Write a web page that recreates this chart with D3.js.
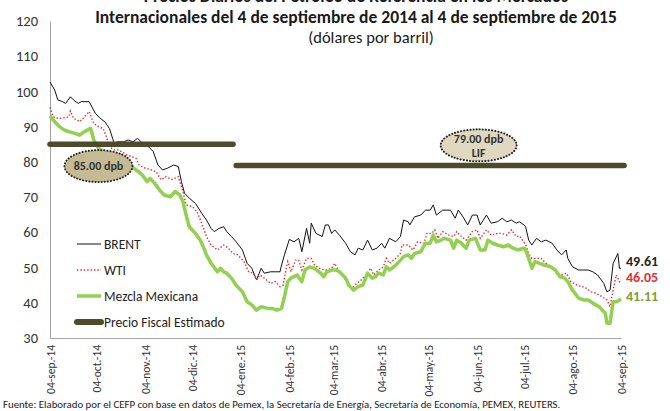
<!DOCTYPE html>
<html>
<head>
<meta charset="utf-8">
<script src="https://cdn.jsdelivr.net/npm/d3@7"></script>
<style>
  body { margin: 0; background: #fff; }
  text { font-family: Carlito, "Liberation Sans Narrow", "Arial Narrow", "Liberation Sans", sans-serif; }
</style>
</head>
<body>
<script>
// days since 04-sep-2014, price in dollars per barrel
const brent = [[0,102.7],[3,100.4],[5,97.6],[8,97.1],[10,96.6],[13,98.5],[15,97.6],[18,96.6],[20,97.1],[25,97.1],[29,93.8],[32,92.4],[35,91.4],[38,89.5],[40,86.7],[41,85.3],[43,85.7],[47,85.7],[50,86.2],[53,85.7],[56,86.7],[59,85.3],[63,84.3],[66,82.9],[69,79.1],[72,77.7],[75,78.2],[79,79.1],[82,78.7],[84,74.4],[86,71.1],[89,69.7],[93,68.2],[97,65.4],[100,63.5],[103,61.1],[105,60.2],[108,61.1],[111,61.6],[113,60.2],[116,58.8],[119,57.3],[123,55.0],[126,51.2],[129,49.8],[132,46.5],[135,49.8],[137,48.4],[141,48.8],[144,48.8],[147,48.8],[148,50.7],[150,53.8],[153,58.0],[156,57.3],[159,58.3],[161,54.5],[164,61.1],[166,56.9],[167,62.6],[170,59.7],[174,58.8],[176,62.1],[178,62.1],[180,59.7],[182,60.7],[185,59.2],[189,56.9],[192,54.5],[195,53.6],[197,55.5],[200,55.0],[203,57.8],[206,55.0],[209,55.5],[212,56.9],[214,55.5],[217,58.3],[221,57.3],[224,58.8],[226,63.5],[229,63.0],[230,62.1],[233,64.4],[237,64.9],[240,66.3],[243,66.3],[245,67.8],[247,64.9],[251,66.3],[256,66.3],[259,64.0],[261,66.3],[264,64.4],[267,62.1],[270,64.9],[273,64.9],[275,62.1],[279,64.9],[282,62.6],[286,63.0],[289,64.0],[292,63.0],[295,63.5],[298,62.6],[300,63.0],[303,62.1],[304,61.6],[306,57.8],[308,56.4],[311,58.3],[314,57.3],[317,57.8],[321,56.9],[324,55.0],[327,53.6],[330,55.0],[331,52.6],[334,50.2],[338,49.3],[341,49.3],[344,49.3],[347,48.8],[350,47.9],[354,45.5],[356,43.1],[358,43.6],[360,51.2],[363,54.0],[364,49.8],[365,49.61]];

const wti = [[0,95.5],[2,92.8],[5,92.4],[8,92.4],[12,92.8],[13,94.4],[15,92.4],[19,91.4],[22,92.8],[25,94.3],[28,90.9],[31,90.0],[34,89.5],[36,87.2],[38,84.3],[41,83.4],[44,83.4],[49,82.0],[52,81.5],[55,81.0],[57,79.1],[61,78.2],[65,77.7],[68,77.2],[71,74.9],[74,75.8],[78,75.0],[82,75.8],[85,71.6],[87,67.8],[91,67.3],[94,65.9],[97,62.6],[100,58.8],[103,56.4],[107,55.0],[111,56.4],[114,55.5],[117,54.0],[120,53.6],[124,51.7],[127,48.8],[130,48.4],[132,46.5],[134,47.9],[137,47.0],[141,45.5],[144,46.0],[147,44.6],[149,45.0],[151,49.8],[152,51.7],[154,48.8],[157,52.1],[159,52.1],[161,49.3],[164,52.6],[167,52.6],[169,50.7],[172,49.8],[175,49.3],[177,49.3],[180,49.8],[182,51.2],[185,48.8],[189,46.5],[193,44.1],[196,45.5],[199,46.5],[202,47.9],[205,49.8],[207,47.9],[210,49.3],[213,50.2],[215,52.6],[217,51.2],[221,52.6],[224,54.0],[225,56.4],[229,56.4],[232,55.0],[235,57.3],[239,56.9],[241,59.7],[244,59.7],[246,60.7],[248,58.3],[251,60.2],[255,59.2],[258,58.8],[260,60.2],[263,58.8],[266,57.8],[270,60.2],[273,60.7],[275,58.3],[279,60.7],[282,59.2],[286,59.7],[289,59.7],[292,59.2],[295,60.7],[298,58.8],[300,59.0],[304,56.6],[306,54.0],[308,52.6],[311,52.6],[314,52.6],[317,51.2],[321,50.2],[324,48.4],[327,47.9],[330,48.4],[333,46.0],[337,45.0],[340,44.6],[343,44.1],[346,43.1],[349,42.7],[353,41.7],[356,40.8],[358,38.9],[360,43.6],[362,47.9],[364,46.0],[365,46.05]];

const mezcla = [[0,93.0],[3,91.4],[6,90.0],[9,89.1],[12,88.6],[16,88.1],[19,87.6],[22,88.6],[26,89.5],[28,86.2],[31,83.9],[38,81.5],[45,80.5],[51,79.0],[55,77.7],[59,76.3],[62,74.4],[64,75.3],[67,73.9],[70,72.0],[73,70.6],[77,70.1],[80,71.6],[83,70.6],[85,68.7],[87,64.9],[89,61.6],[93,59.7],[96,57.8],[98,55.9],[100,53.6],[103,51.2],[107,48.8],[109,49.8],[111,48.8],[113,48.4],[116,47.0],[119,45.0],[123,43.1],[126,40.3],[129,39.4],[132,37.9],[135,38.9],[139,38.4],[142,38.4],[145,37.9],[148,38.4],[150,42.0],[152,46.0],[154,47.0],[158,47.9],[161,46.0],[163,49.3],[166,50.2],[169,49.8],[173,48.4],[175,47.4],[177,48.8],[180,49.3],[183,49.3],[185,48.8],[189,47.0],[191,45.0],[194,43.6],[197,44.6],[200,45.0],[203,48.4],[206,47.0],[208,47.4],[210,48.4],[213,47.9],[215,50.2],[217,49.3],[221,50.7],[224,52.1],[226,53.1],[229,53.6],[231,52.6],[233,54.0],[237,54.5],[240,56.9],[243,56.9],[245,59.2],[247,57.3],[250,57.8],[252,58.3],[256,57.8],[258,55.5],[260,57.8],[263,56.9],[266,55.5],[268,57.8],[272,58.3],[275,55.0],[278,55.0],[280,57.8],[283,56.9],[286,56.4],[290,55.9],[293,56.4],[296,55.5],[299,55.0],[303,55.5],[304,55.0],[306,52.6],[308,49.8],[310,51.7],[313,51.2],[316,50.7],[320,50.2],[323,49.3],[326,47.4],[329,47.0],[331,46.0],[334,43.6],[338,41.3],[341,40.8],[344,40.8],[347,39.9],[351,38.9],[355,37.0],[356,34.2],[358,34.2],[360,40.3],[362,40.3],[364,40.8],[365,41.11]];

// precio fiscal estimado: [from day, to day, value]
const fiscal = [[0, 117, 85], [119, 367, 79]];

const xTickLabels = ["04-sep.-14","04-oct.-14","04-nov.-14","04-dic.-14","04-ene.-15","04-feb.-15","04-mar.-15","04-abr.-15","04-may.-15","04-jun.-15","04-jul.-15","04-ago.-15","04-sep.-15"];
const yTicks = [30, 40, 50, 60, 70, 80, 90, 100, 110, 120];
const legendNames = ["BRENT", "WTI", "Mezcla Mexicana", "Precio Fiscal Estimado"];
const endLabels = ["49.61", "46.05", "41.11"];
// ellipse callouts: [day, value, lines]
const callouts = [[31, 78.8, ["85.00 dpb"]], [274, 84.7, ["79.00 dpb", "LIF"]]];

(function() {
  let svg = "";
  const start = new Date(2014, 8, 4);
  const day = (n) => d3.timeDay.offset(start, n);

  window.onload = function() {
    svg = d3.select("body").append("svg")
      .attr("width", 670)
      .attr("height", 411);
    draw();
  };

  function draw() {
    let x = d3.scaleTime()
      .domain([start, day(365)])
      .range([50, 621]);
    let y = d3.scaleLinear()
      .domain([30, 120])
      .range([338, 21]);

    // titles (first line cut off at top like the source)
    svg.append("text").attr("x", 356).attr("y", 1.5)
      .attr("text-anchor", "middle").attr("font-size", 17.5).attr("font-weight", "bold")
      .attr("fill", "#1a1a1a")
      .text("Precios Diarios del Petróleo de Referencia en los Mercados");
    svg.append("text").attr("x", 356).attr("y", 23)
      .attr("text-anchor", "middle").attr("font-size", 17.5).attr("font-weight", "bold")
      .attr("fill", "#1a1a1a")
      .text("Internacionales del 4 de septiembre de 2014 al 4 de septiembre de 2015");
    svg.append("text").attr("x", 371).attr("y", 43)
      .attr("text-anchor", "middle").attr("font-size", 16.5)
      .attr("fill", "#1a1a1a")
      .text("(dólares por barril)");

    // axes
    let yAxis = d3.axisLeft(y).tickValues(yTicks).tickSize(0).tickPadding(12);
    let gy = svg.append("g").attr("transform", "translate(50,0)").call(yAxis);
    gy.selectAll("text").attr("font-size", 14.5).attr("fill", "#333");
    gy.select(".domain").attr("stroke", "#a6a6a6");

    let tickDates = xTickLabels.map((d, i) => d3.timeMonth.offset(start, i));
    let xAxis = d3.axisBottom(x).tickValues(tickDates).tickSize(0)
      .tickFormat((d, i) => xTickLabels[i]);
    let gx = svg.append("g").attr("transform", "translate(0,338)").call(xAxis);
    gx.select(".domain").attr("stroke", "#a6a6a6");
    gx.selectAll("text")
      .attr("font-size", 11.5).attr("fill", "#333")
      .attr("transform", "rotate(-90)")
      .attr("x", -7).attr("y", 0).attr("dy", "0.35em")
      .style("text-anchor", "end");

    let line = d3.line()
      .x((d) => x(day(d[0])))
      .y((d) => y(d[1]));

    svg.append("path").datum(brent).attr("d", line)
      .attr("fill", "none").attr("stroke", "#111").attr("stroke-width", 1);
    svg.append("path").datum(wti).attr("d", line)
      .attr("fill", "none").attr("stroke", "#e8262b").attr("stroke-width", 1.4)
      .attr("stroke-dasharray", "1.4,2");
    svg.append("path").datum(mezcla).attr("d", line)
      .attr("fill", "none").attr("stroke", "#92d050").attr("stroke-width", 3.5)
      .attr("stroke-linejoin", "round");

    // fiscal price segments
    svg.selectAll(".fiscal").data(fiscal).enter().append("line")
      .attr("x1", (d) => x(day(d[0]))).attr("x2", (d) => x(day(d[1])))
      .attr("y1", (d) => y(d[2])).attr("y2", (d) => y(d[2]))
      .attr("stroke", "#4f4a2b").attr("stroke-width", 5.5).attr("stroke-linecap", "round");

    // callout ellipses
    let fills = ["#c4bb95", "#ddd8bf"];
    callouts.forEach((c, i) => {
      let cx = x(day(c[0])), cy = y(c[1]);
      svg.append("ellipse").attr("cx", cx).attr("cy", cy)
        .attr("rx", i == 0 ? 34 : 38).attr("ry", 16)
        .attr("fill", fills[i]).attr("stroke", "#222").attr("stroke-width", 2)
        .attr("stroke-dasharray", "0.1,3").attr("stroke-linecap", "round");
      c[2].forEach((t, j) => {
        svg.append("text").attr("x", cx)
          .attr("y", c[2].length == 1 ? cy + 4 : cy - 2 + j * 14)
          .attr("text-anchor", "middle").attr("font-size", 12).attr("font-weight", "bold")
          .attr("fill", "#333").text(t);
      });
    });

    // end labels
    let endColors = ["#262626", "#e8302f", "#77a034"];
    let endY = [261, 277, 296];
    endLabels.forEach((t, i) => {
      svg.append("text").attr("x", 626).attr("y", endY[i] + 5)
        .attr("font-size", 14).attr("font-weight", "bold")
        .attr("fill", endColors[i]).text(t);
    });

    // legend
    let legendY = [244, 270, 296, 322];
    legendNames.forEach((name, i) => {
      let ly = legendY[i];
      let l = svg.append("line").attr("x1", 77).attr("x2", 101).attr("y1", ly).attr("y2", ly);
      if (i == 0) l.attr("stroke", "#111").attr("stroke-width", 1);
      if (i == 1) l.attr("stroke", "#e8262b").attr("stroke-width", 1.4).attr("stroke-dasharray", "1.4,2");
      if (i == 2) l.attr("stroke", "#92d050").attr("stroke-width", 3.5);
      if (i == 3) l.attr("stroke", "#4f4a2b").attr("stroke-width", 6).attr("stroke-linecap", "round");
      svg.append("text").attr("x", 104).attr("y", ly + 4.5)
        .attr("font-size", 13.5).attr("fill", "#222").text(name);
    });

    // source
    svg.append("text").attr("x", 3).attr("y", 408)
      .attr("font-size", 10.8).attr("fill", "#222")
      .text("Fuente: Elaborado por el CEFP con base en datos de Pemex,  la Secretaría de Energía, Secretaría de Economía, PEMEX, REUTERS.");
  }
})();
</script>
</body>
</html>
